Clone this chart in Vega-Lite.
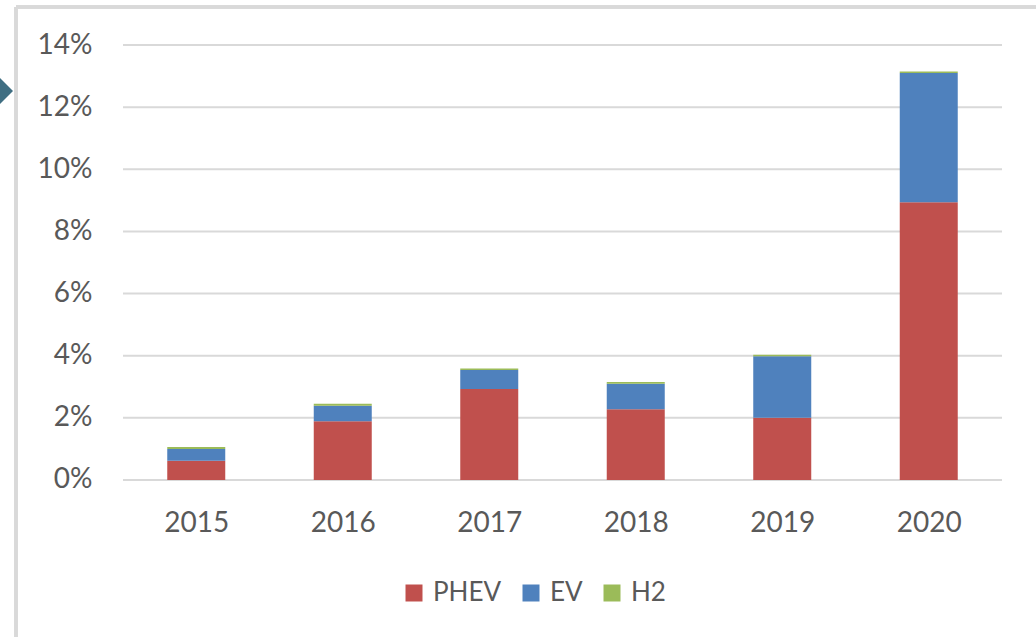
{
  "$schema": "https://vega.github.io/schema/vega-lite/v6.json",
  "width": 1020,
  "height": 630,
  "autosize": {"type": "none"},
  "padding": {"left": 16, "top": 7, "right": 0, "bottom": 0},
  "background": "white",
  "config": {"view": {"stroke": null}, "font": "Lato"},
  "datasets": {
    "shares": [
      {"year": 2015, "type": "PHEV", "value": 0.0062},
      {"year": 2015, "type": "EV", "value": 0.0038},
      {"year": 2015, "type": "H2", "value": 0.0006},
      {"year": 2016, "type": "PHEV", "value": 0.0189},
      {"year": 2016, "type": "EV", "value": 0.0050},
      {"year": 2016, "type": "H2", "value": 0.0006},
      {"year": 2017, "type": "PHEV", "value": 0.0293},
      {"year": 2017, "type": "EV", "value": 0.0061},
      {"year": 2017, "type": "H2", "value": 0.0005},
      {"year": 2018, "type": "PHEV", "value": 0.0228},
      {"year": 2018, "type": "EV", "value": 0.0082},
      {"year": 2018, "type": "H2", "value": 0.0005},
      {"year": 2019, "type": "PHEV", "value": 0.0200},
      {"year": 2019, "type": "EV", "value": 0.0198},
      {"year": 2019, "type": "H2", "value": 0.0005},
      {"year": 2020, "type": "PHEV", "value": 0.0894},
      {"year": 2020, "type": "EV", "value": 0.0416},
      {"year": 2020, "type": "H2", "value": 0.0005}
    ],
    "ticks": [
      {"t": 0}, {"t": 0.02}, {"t": 0.04}, {"t": 0.06}, {"t": 0.08}, {"t": 0.10}, {"t": 0.12}, {"t": 0.14}
    ],
    "arrow": [{"ax": 2013.7491, "ay": 0.1252}]
  },
  "layer": [
    {
      "data": {"name": "ticks"},
      "mark": {"type": "rule", "color": "#D9D9D9", "strokeWidth": 2},
      "encoding": {
        "y": {"field": "t", "type": "quantitative", "title": null},
        "x": {"datum": 2014.5, "type": "quantitative", "title": null},
        "x2": {"datum": 2020.5}
      }
    },
    {
      "data": {"name": "ticks"},
      "mark": {"type": "rule", "color": "#D9D9D9", "strokeWidth": 3},
      "encoding": {
        "y": {"datum": 0.15223, "type": "quantitative", "title": null},
        "x": {"datum": 2013.7696, "type": "quantitative", "title": null},
        "x2": {"datum": 2020.7321}
      }
    },
    {
      "data": {"name": "ticks"},
      "mark": {"type": "rule", "color": "#D9D9D9", "strokeWidth": 3},
      "encoding": {
        "x": {"datum": 2013.7696, "type": "quantitative", "title": null},
        "y": {"datum": -0.05053, "type": "quantitative", "title": null},
        "y2": {"datum": 0.15223}
      }
    },
    {
      "data": {"name": "shares"},
      "transform": [
        {"stack": "value", "groupby": ["year"], "sort": [], "as": ["v0", "v1"]}
      ],
      "mark": {"type": "bar", "width": 58, "orient": "vertical"},
      "encoding": {
        "x": {
          "field": "year", "type": "quantitative", "title": null,
          "scale": {"domain": [2013.7696, 2020.7321], "nice": false, "zero": false, "padding": 0},
          "axis": {
            "values": [2015, 2016, 2017, 2018, 2019, 2020], "format": "d", "title": null,
            "grid": false, "domain": false, "ticks": false, "tickSize": 0, "labelPadding": 0,
            "offset": -128, "labelFontSize": 28, "labelColor": "#595959", "labelOverlap": false, "labelFlush": false
          }
        },
        "y": {
          "field": "v0", "type": "quantitative", "title": null,
          "scale": {"domain": [-0.05053, 0.15223], "nice": false, "zero": false},
          "axis": {
            "values": [0, 0.02, 0.04, 0.06, 0.08, 0.10, 0.12, 0.14], "format": ".0%", "title": null,
            "grid": false, "domain": false, "ticks": false, "tickSize": 0, "labelPadding": 0,
            "offset": -76, "labelFontSize": 28, "labelColor": "#595959", "labelOverlap": false, "labelFlush": false
          }
        },
        "y2": {"field": "v1"},
        "color": {
          "field": "type", "type": "nominal", "sort": ["PHEV", "EV", "H2"],
          "scale": {"domain": ["PHEV", "EV", "H2"], "range": ["#C0504D", "#4F81BD", "#9BBB59"]},
          "legend": {
            "orient": "none", "legendX": 385, "legendY": 573, "direction": "horizontal", "title": null,
            "symbolType": "square", "symbolSize": 289, "symbolStrokeWidth": 0, "symbolOpacity": 1,
            "labelFontSize": 26, "labelColor": "#595959", "labelOffset": 6, "columnPadding": 16
          }
        }
      }
    },
    {
      "data": {"name": "arrow"},
      "mark": {"type": "point", "shape": "M-1,-1L0,0L-1,1Z", "filled": true, "color": "#3F6E82", "opacity": 1, "size": 676},
      "encoding": {
        "x": {"field": "ax", "type": "quantitative", "title": null},
        "y": {"field": "ay", "type": "quantitative", "title": null}
      }
    }
  ]
}
